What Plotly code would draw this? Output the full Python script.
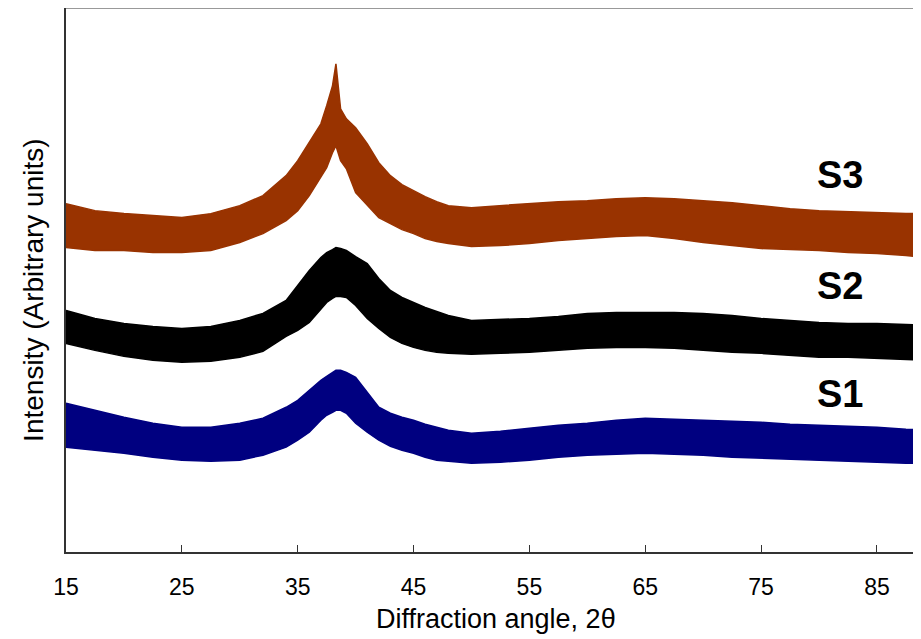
import plotly.graph_objects as go

# diffraction angle grid (2 theta) at which the band edges were read
angle = [15, 17.5, 20, 22.5, 25, 27.5, 30, 32, 34, 35, 36, 37, 37.5, 38, 38.3, 38.7, 39.2,
         40, 41, 42, 43, 44, 45, 46, 47, 48, 50, 52.5, 55, 57.5, 60, 62.5, 65, 67.5,
         70, 72.5, 75, 77.5, 80, 82.5, 85, 87.5, 89.5]

# upper / lower envelope of the noisy patterns (arbitrary units)
s3_upper = [349, 342, 339, 337, 335, 339, 347, 357, 377, 392, 410, 429, 447, 467, 489, 444, 434,
            425, 409, 390, 377, 368, 362, 356, 351, 347, 345, 347, 349, 351, 352, 354, 355, 354,
            352, 350, 347, 344, 342, 341, 340, 339, 339]
s3_lower = [305, 302, 302, 300, 300, 302, 310, 319, 332, 342, 357, 375, 385, 400, 407, 392, 384,
            360, 347, 335, 329, 323, 319, 314, 311, 309, 306, 307, 309, 312, 314, 316, 317, 314,
            310, 307, 304, 303, 302, 300, 299, 297, 295]

s2_upper = [242, 234, 229, 226, 224, 226, 232, 239, 252, 267, 282, 295, 300, 303, 305, 304, 302,
            296, 289, 274, 262, 255, 250, 245, 241, 237, 232, 233, 234, 236, 239, 240, 240, 240,
            239, 237, 234, 232, 230, 229, 229, 228, 227]
s2_lower = [209, 202, 196, 192, 190, 191, 195, 201, 216, 222, 230, 244, 250, 254, 256, 256, 255,
            247, 234, 224, 215, 209, 205, 202, 200, 199, 198, 199, 200, 202, 204, 205, 205, 204,
            202, 200, 199, 197, 195, 195, 194, 193, 192]

s1_upper = [149, 142, 135, 129, 125, 125, 129, 134, 145, 152, 162, 172, 176, 180, 182, 182, 180,
            175, 160, 145, 139, 135, 132, 128, 125, 122, 119, 121, 124, 127, 129, 132, 134, 133,
            132, 131, 130, 128, 127, 126, 125, 123, 122]
s1_lower = [105, 102, 99, 95, 92, 91, 92, 97, 105, 112, 120, 132, 137, 140, 142, 142, 139,
            129, 120, 112, 106, 102, 99, 95, 92, 91, 89, 90, 92, 95, 97, 98, 99, 98,
            97, 95, 94, 93, 92, 91, 90, 89, 89]

labels = ['S3', 'S2', 'S1']
label_y = [378, 266, 158]
colors = ['#993300', '#000000', '#000080']
uppers = [s3_upper, s2_upper, s1_upper]
lowers = [s3_lower, s2_lower, s1_lower]

fig = go.Figure()

for name, col, up, lo in zip(labels, colors, uppers, lowers):
    fig.add_trace(go.Scatter(x=angle, y=lo, mode='lines', line=dict(color=col, width=1.5),
                             showlegend=False, hoverinfo='skip'))
    fig.add_trace(go.Scatter(x=angle, y=up, mode='lines', line=dict(color=col, width=1.5),
                             fill='tonexty', fillcolor=col, name=name, showlegend=False))

for name, yy in zip(labels, label_y):
    fig.add_annotation(x=81.85, y=yy, text='<b>%s</b>' % name, showarrow=False,
                       font=dict(family='Liberation Sans, Arial', size=38, color='black'))

# axis titles
fig.add_annotation(xref='paper', yref='paper', x=0.4985, y=0, yshift=-67, showarrow=False,
                   text='Diffraction angle, 2θ', yanchor='middle',
                   font=dict(family='Liberation Sans, Arial', size=27, color='black'))
fig.add_annotation(xref='paper', yref='paper', x=0, xshift=-32, y=0.48, showarrow=False,
                   text='Intensity (Arbitrary units)', textangle=-90, xanchor='center',
                   font=dict(family='Liberation Sans, Arial', size=28, color='black'))

# thin grey frame line at the top of the plot area
fig.add_shape(type='line', xref='paper', yref='paper', x0=0, x1=1, y0=1, y1=1,
              line=dict(color='#999999', width=2))

fig.update_layout(
    width=921, height=639,
    margin=dict(l=58, r=0, t=0, b=95, autoexpand=False),
    plot_bgcolor='white', paper_bgcolor='white',
    xaxis=dict(range=[15, 89.49], tickmode='array', tickvals=[15, 25, 35, 45, 55, 65, 75, 85],
               ticks='inside', ticklen=7, tickcolor='#333333', showline=True, linecolor='#333333',
               linewidth=2, showgrid=False, zeroline=False, ticklabelstandoff=13,
               tickfont=dict(family='Liberation Sans, Arial', size=23, color='black')),
    yaxis=dict(range=[0, 545], showticklabels=False, ticks='', showline=True, linecolor='#333333',
               linewidth=2, showgrid=False, zeroline=False),
)

fig.write_html('out.html')
